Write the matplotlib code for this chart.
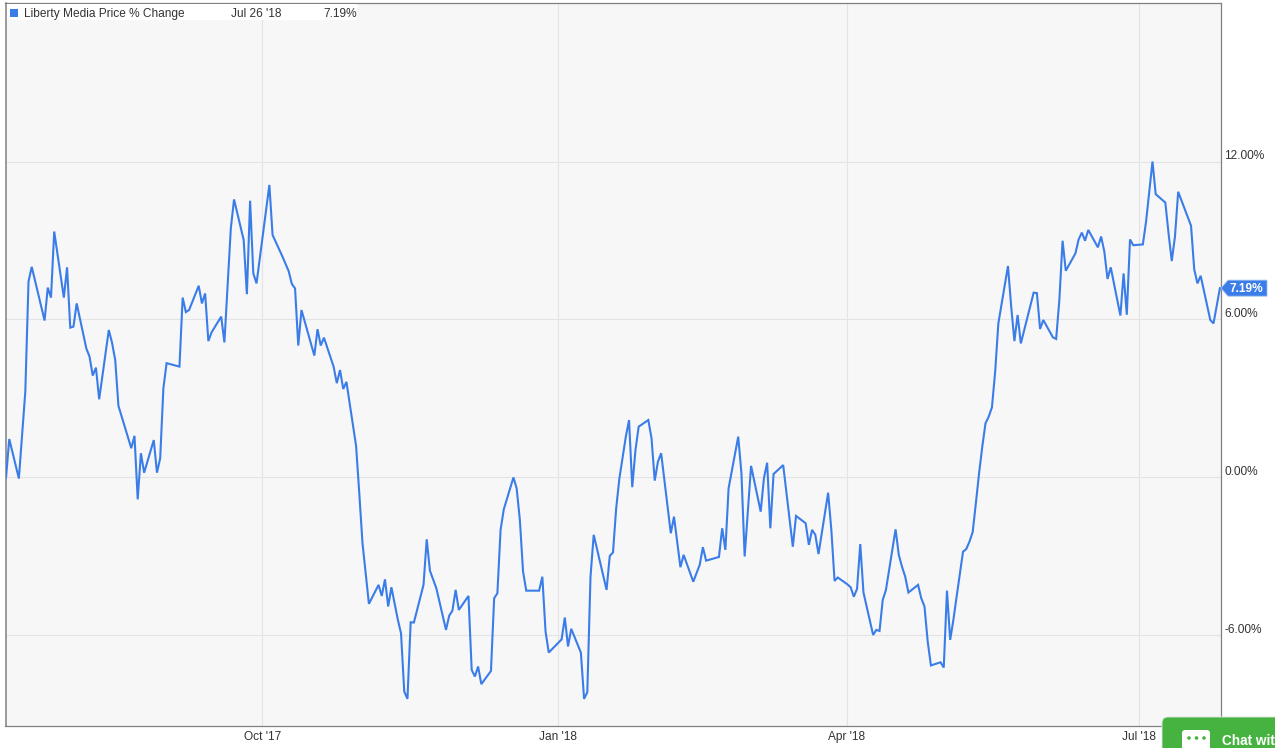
import pandas as pd
import matplotlib
matplotlib.use('Agg')
import matplotlib.pyplot as plt
from matplotlib.patches import Rectangle, Polygon, FancyBboxPatch, Circle

plt.rcParams['font.family'] = ['Liberation Sans', 'DejaVu Sans']

# days since the first point, weekends and holidays are missing
days = [0, 1, 4, 6, 7, 8, 12, 13, 14, 15,
        18, 19, 20, 21, 22, 25, 26, 27, 28, 29,
        32, 33, 34, 35, 39, 40, 41, 42, 43, 46,
        47, 48, 49, 50, 54, 55, 56, 57, 60, 61,
        62, 63, 64, 67, 68, 70, 71, 74, 75, 76,
        77, 78, 82, 83, 86, 88, 89, 90, 91, 92,
        96, 97, 98, 99, 102, 103, 104, 105, 106, 107,
        108, 109, 110, 111, 112, 113, 116, 117, 118, 119,
        120, 122, 123, 124, 125, 126, 127, 130, 131, 132,
        134, 137, 138, 139, 140, 141, 144, 145, 146, 147,
        148, 151, 152, 153, 154, 155, 158, 159, 160, 161,
        162, 166, 167, 168, 169, 173, 174, 175, 176, 179,
        180, 181, 182, 183, 187, 188, 189, 190, 191, 193,
        194, 195, 196, 197, 200, 201, 202, 203, 204, 207,
        208, 210, 211, 214, 216, 217, 218, 222, 223, 224,
        225, 228, 229, 230, 232, 235, 236, 237, 238, 239,
        242, 245, 246, 249, 250, 251, 252, 253, 256, 257,
        258, 259, 262, 263, 264, 265, 266, 267, 270, 271,
        272, 273, 274, 277, 278, 279, 280, 281, 284, 285,
        286, 287, 288, 291, 292, 293, 294, 295, 296, 298,
        299, 300, 301, 302, 303, 304, 305, 306, 307, 308,
        309, 312, 313, 314, 315, 316, 320, 321, 322, 323,
        326, 327, 328, 329, 330, 333, 334, 335, 336, 337,
        340, 341, 342, 343, 344, 347, 348, 349, 350, 351,
        354, 355, 357, 358, 361, 362, 363, 364, 365, 369,
        370, 371, 372, 375, 376, 378]
changes = [0.0, 1.46, -0.04, 3.26, 7.44, 8.0, 5.96, 7.21, 6.83, 9.34,
           6.83, 7.98, 5.69, 5.73, 6.61, 4.9, 4.59, 3.87, 4.17, 2.97,
           5.6, 5.12, 4.46, 2.72, 1.11, 1.58, -0.83, 0.92, 0.18, 1.42,
           0.18, 0.73, 3.39, 4.34, 4.21, 6.83, 6.28, 6.36, 7.28, 6.61,
           6.99, 5.18, 5.51, 6.11, 5.13, 9.46, 10.56, 9.02, 6.96, 10.51,
           7.75, 7.37, 11.11, 9.21, 8.41, 7.84, 7.35, 7.18, 5.01, 6.36,
           4.63, 5.63, 5.01, 5.31, 4.21, 3.58, 4.08, 3.36, 3.63, 2.82,
           1.99, 1.2, -0.6, -2.5, -3.64, -4.8, -4.08, -4.5, -3.87, -4.9,
           -4.17, -5.4, -5.92, -8.13, -8.41, -5.5, -5.51, -4.08, -2.35, -3.54,
           -4.21, -5.79, -5.25, -5.06, -4.27, -5.03, -4.5, -7.31, -7.56, -7.18,
           -7.85, -7.35, -4.59, -4.4, -1.99, -1.21, 0.0, -0.41, -1.61, -3.58,
           -4.3, -4.3, -3.77, -5.85, -6.65, -6.15, -5.32, -6.42, -5.75, -6.65,
           -8.41, -8.16, -3.77, -2.18, -4.27, -2.98, -2.85, -1.17, -0.03, 1.55,
           2.18, -0.37, 1.04, 1.93, 2.18, 1.49, -0.12, 0.6, 0.92, -2.12,
           -1.49, -3.41, -2.94, -3.96, -3.32, -2.65, -3.16, -3.02, -1.93, -2.75,
           -0.41, 1.55, 0.16, -3.0, 0.44, -1.3, -0.03, 0.56, -1.93, 0.13,
           0.47, -2.63, -1.46, -1.74, -2.56, -1.99, -2.18, -2.91, -0.58, -2.0,
           -3.93, -3.8, -4.06, -4.17, -4.53, -4.23, -2.53, -4.37, -5.98, -5.79,
           -5.83, -4.65, -4.27, -1.97, -2.94, -3.39, -3.77, -4.37, -4.08, -4.59,
           -4.9, -6.23, -7.14, -7.02, -7.22, -4.3, -6.17, -5.41, -4.53, -2.82,
           -2.72, -2.44, -2.08, -0.98, 0.16, 1.17, 2.06, 2.31, 2.66, 4.0,
           5.85, 8.03, 6.49, 5.18, 6.17, 5.09, 7.02, 7.0, 5.64, 5.98,
           5.32, 5.26, 6.74, 8.99, 7.85, 8.51, 9.04, 9.3, 8.99, 9.4,
           8.74, 9.15, 8.58, 7.54, 7.98, 6.15, 7.75, 6.18, 9.04, 8.82,
           8.85, 9.72, 12.0, 10.76, 10.44, 9.27, 8.22, 9.15, 10.85, 9.56,
           7.9, 7.37, 7.66, 5.98, 5.85, 7.19]
start_date = '2017-07-13'
y_ticks = [-6, 0, 6, 12]
y_labels = ['-6.00%', '0.00%', '6.00%', '12.00%']
# the gridlines sit a few hours before midnight in the reference
x_ticks = ['2017-09-30 19:00', '2017-12-31 19:00', '2018-03-31 19:00', '2018-06-30 19:00']
x_labels = ["Oct '17", "Jan '18", "Apr '18", "Jul '18"]

W, H = 1275, 748
BLUE = '#3b7de8'
GRID = '#e4e4e4'
TXT = '#333333'
FS = 8.6

dates = pd.Timestamp(start_date) + pd.to_timedelta(days, unit='D')

fig = plt.figure(figsize=(W / 100, H / 100), dpi=100, facecolor='white')
ax = fig.add_axes((5.5 / W, 1 - 726 / H, (1221 - 5.5) / W, (726 - 3) / H))
ax.set_facecolor('#f7f7f7')
ax.plot(dates, changes, color=BLUE, lw=1.5, solid_joinstyle='miter', zorder=3)
ax.set_xlim(dates[0] - pd.Timedelta(hours=4), dates[-1] + pd.Timedelta(hours=8))
ax.set_ylim(-9.44, 18.02)

ax.set_xticks(pd.to_datetime(x_ticks))
ax.set_xticklabels(x_labels, fontsize=FS, color=TXT)
ax.set_yticks(y_ticks)
ax.set_yticklabels([])
ax.yaxis.tick_right()
ax.tick_params(length=0, pad=3.5)
ax.grid(True, color=GRID, lw=0.8)
ax.set_axisbelow(True)
for side in ax.spines:
    ax.spines[side].set_color('#808080')
    ax.spines[side].set_linewidth(0.9)
ax.spines['left'].set_linewidth(1.1)

# y labels sit just above their gridlines
for val, lab in zip(y_ticks, y_labels):
    ax.annotate(lab, xy=(1, val), xycoords=('axes fraction', 'data'), xytext=(2.5, -0.3),
                textcoords='offset points', fontsize=FS, color=TXT, va='bottom', ha='left')

# overlay in pixel coordinates for the legend strip, the badge and the chat button
ov = fig.add_axes((0, 0, 1, 1))
ov.set_xlim(0, W)
ov.set_ylim(H, 0)
ov.axis('off')
ov.patch.set_alpha(0)

ov.add_patch(Rectangle((7, 4), 350, 16, fc='white', ec='none'))
ov.add_patch(Rectangle((10, 9), 8, 8, fc=BLUE, ec='none'))
ov.text(24, 13.5, 'Liberty Media Price % Change', fontsize=FS, color=TXT, va='center')
ov.text(231, 13.5, "Jul 26 '18", fontsize=FS, color=TXT, va='center')
ov.text(357, 13.5, '7.19%', fontsize=FS, color=TXT, va='center', ha='right')

by = H - ax.transData.transform((0, changes[-1]))[1]
ov.add_patch(Polygon([(1221, by), (1228, by - 8), (1267, by - 8), (1267, by + 8), (1228, by + 8)],
                     fc=BLUE, ec='#9cbdf2', lw=0.6))
ov.text(1229, by + 0.5, '7.19%', fontsize=FS, color='white', weight='bold', va='center')

ov.add_patch(FancyBboxPatch((1162, 717), 140, 60, boxstyle='round,pad=0,rounding_size=6',
                            fc='#46b340', ec='#e6e6e6', lw=0.6, clip_on=True))
ov.add_patch(FancyBboxPatch((1182, 730), 28, 22, boxstyle='round,pad=0,rounding_size=3',
                            fc='white', ec='none'))
for cx in (1189, 1196.5, 1204):
    ov.add_patch(Circle((cx, 738), 1.8, fc='#46b340', ec='none'))
ov.text(1222, 741, 'Chat wit', fontsize=9.8, color='white', weight='bold', va='center')

fig.savefig('out.png', dpi=100)
